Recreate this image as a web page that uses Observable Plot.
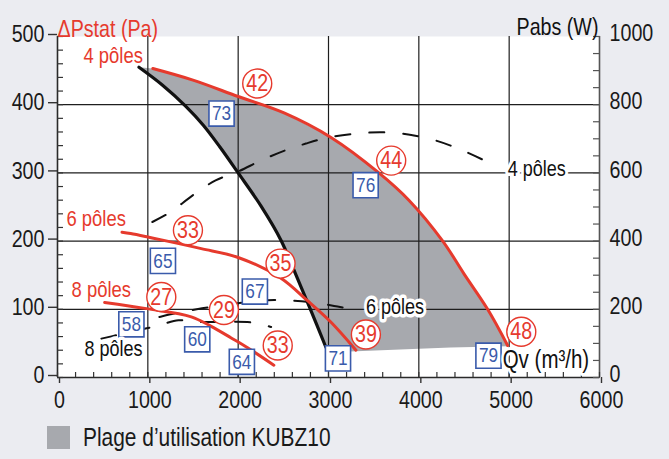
<!DOCTYPE html>
<html><head><meta charset="utf-8">
<script src="https://cdn.jsdelivr.net/npm/d3@7"></script>
<script src="https://cdn.jsdelivr.net/npm/@observablehq/plot@0.6"></script>
<style>
html,body{margin:0;padding:0;background:#ebecf1;}
body{width:669px;height:459px;overflow:hidden;font-family:"Liberation Sans",Arial,sans-serif;}
#legend{position:relative;height:44px;}
#legend .sw{position:absolute;left:47px;top:11px;width:23px;height:23px;background:#a7a9ae;}
#legend .lt{position:absolute;left:83px;top:10px;font-size:25.5px;line-height:25px;color:#1a1a1a;white-space:nowrap;transform:scaleX(0.82);transform-origin:0 50%;}
</style></head>
<body><div id="chart"></div>
<div id="legend"><div class="sw"></div><div class="lt">Plage d’utilisation KUBZ10</div></div>
<script>
// ---- data ----
const xTicks = [0, 1000, 2000, 3000, 4000, 5000, 6000];
const yTicksPa = [0, 100, 200, 300, 400, 500];
const yTicksW = [0, 200, 400, 600, 800, 1000];

// pressure curves [Qv m3/h, dP Pa]
const pres4 = [[1055,453],[1500,436],[2000,412],[2508,388],[3028,352],[3558,300],[3890,260],[4265,200],[4500,152],[4762,100],[4983,47]];
const pres6 = [[714,213],[810,211],[1000,206],[1215,200],[1591,189],[2000,176],[2470,146],[2764,113],[3028,81],[3304,40]];
const pres8 = [[522,110],[985,101],[1481,89],[1702,75],[1923,58],[2100,44],[2395,18]];
// limit curve (black)
const limit = [[902,455],[1160,429],[1418,398],[1614,370],[1798,338],[2000,300],[2250,252],[2475,201],[2641,150],[2800,100],[2972,44]];
// lower edge of usage zone
const zoneBottom = [[3030,37],[4350,44],[4983,46]];
// absorbed power curves [Qv m3/h, Pabs W]
const pow4 = [[1050,456],[1250,485],[1500,535],[1750,578],[2000,604],[2250,636],[2500,664],[2750,686],[3000,704],[3300,715],[3600,719],[3900,712],[4200,694],[4500,664],[4870,618]];
const pow6 = [[760,160],[1000,170],[1300,188],[1600,203],[2000,218],[2400,227],[2800,221],[3100,208],[3330,198]];
const pow8 = [[486,114],[652,124],[1000,145],[1115,152],[1340,168],[1515,163],[1800,163],[2165,161],[2365,148]];

// sound levels (red circles) and efficiencies (blue boxes)
const circleVals = ["42","44","33","35","27","29","33","39","48"];
const circleQ    = [2211, 3694, 1444, 2469, 1149, 1842, 2438, 3414, 5134];
const circleP    = [431, 318, 216, 167, 118, 99, 47, 63, 67];
const boxVals = ["73","76","65","67","58","60","64","71","79"];
const boxQ    = [1816, 3411, 1167, 2185, 818, 1547, 2041, 3105, 4771];
const boxP    = [387, 282, 171, 126, 78, 56, 23, 28, 32];

const redLabels = ["4 pôles", "6 pôles", "8 pôles"];
const redLabelQ = [287, 99, 155];
const redLabelP = [472, 233, 129];
const blackLabels = ["8 pôles", "6 pôles", "4 pôles"];
const blackLabelQ = [298, 3414, 4983];
const blackLabelW = [85, 208, 612];

const titleLeft = "ΔPstat (Pa)";
const titleRight = "Pabs (W)";
const xTitle = "Qv (m³/h)";

// ---- styles ----
const FONT = '"Liberation Sans",Arial,sans-serif';
const RED = "#e63a2d", BLUE = "#3a5bab", GRAY = "#a7a9ae", INK = "#1a1a1a";

const circles = circleVals.map((v,i)=>({v, x:circleQ[i], y:circleP[i]}));
const boxes = boxVals.map((v,i)=>({v, x:boxQ[i], y:boxP[i]}));
const redL = redLabels.map((t,i)=>({t, x:redLabelQ[i], y:redLabelP[i]}));
const blackL = blackLabels.map((t,i)=>({t, x:blackLabelQ[i], y:blackLabelW[i]}));
const zone = [...limit, ...zoneBottom, ...pres4.slice().reverse()];

const X = d => d[0], Y = d => d[1], YW = d => d[1] / 2;
const fmt = d => String(d);

const chart = Plot.plot({
  width: 669, height: 415,
  marginLeft: 57, marginRight: 70, marginTop: 36, marginBottom: 38,
  x: {domain: [0, 6000], label: null},
  y: {domain: [0, 500], label: null},
  style: {fontFamily: FONT, background: "transparent", overflow: "visible", color: INK},
  marks: [
    Plot.frame({fill: "white", stroke: null}),
    Plot.line(zone, {x: X, y: Y, fill: GRAY, stroke: "none", curve: "linear"}),
    Plot.gridX(xTicks.slice(1, -1), {stroke: "#1e1e1e", strokeOpacity: 1, strokeWidth: 1.2}),
    Plot.gridY(yTicksPa.slice(1, -1), {stroke: "#1e1e1e", strokeOpacity: 1, strokeWidth: 1.2}),
    Plot.ruleX([0], {stroke: "#2a2a2a", strokeWidth: 1.6}),
    Plot.ruleY([0], {stroke: "#2a2a2a", strokeWidth: 1.6}),
    Plot.ruleX([6000], {stroke: "#555", strokeWidth: 1.6}),
    // left axis
    Plot.axisY(yTicksPa, {anchor: "left", tickSize: 9, tickPadding: 4, fontSize: 24, dy: -2, label: null, tickFormat: fmt, stroke: "#333", strokeWidth: 1.4}),
    Plot.axisY(d3.range(0, 501, 20), {anchor: "left", tickSize: -6, fill: "none", label: null, stroke: "#333", strokeWidth: 1.2}),
    // right axis (W, same frame: 1000 W at top)
    Plot.axisY(yTicksW.map(w => w / 2), {anchor: "right", tickSize: 0, tickPadding: 10, fontSize: 24, dy: -3, label: null, tickFormat: (d, i) => String(yTicksW[i])}),
    Plot.axisY(d3.range(0, 1001, 50).map(w => w / 2), {anchor: "right", tickSize: -7, fill: "none", label: null, stroke: "#555", strokeWidth: 1.2}),
    // bottom axis
    Plot.axisX(xTicks, {anchor: "bottom", tickSize: 6, tickPadding: 7, fontSize: 24, dx: 2, label: null, tickFormat: fmt, stroke: "#333", strokeWidth: 1.4}),
    Plot.axisX(d3.range(0, 6001, 200), {anchor: "bottom", tickSize: -5, fill: "none", label: null, stroke: "#333", strokeWidth: 1.2}),
    // curves
    Plot.line(limit, {x: X, y: Y, stroke: "#111", strokeWidth: 3.2, curve: "catmull-rom"}),
    Plot.line(pow4, {x: X, y: YW, stroke: "#111", strokeWidth: 2, strokeDasharray: "15,19", curve: "catmull-rom"}),
    Plot.line(pow6, {x: X, y: YW, stroke: "#111", strokeWidth: 2, strokeDasharray: "15,19", curve: "catmull-rom"}),
    Plot.line(pow8, {x: X, y: YW, stroke: "#111", strokeWidth: 2, strokeDasharray: "15,19", curve: "catmull-rom"}),
    Plot.line(pres4, {x: X, y: Y, stroke: RED, strokeWidth: 3, curve: "catmull-rom"}),
    Plot.line(pres6, {x: X, y: Y, stroke: RED, strokeWidth: 3, curve: "catmull-rom"}),
    Plot.line(pres8, {x: X, y: Y, stroke: RED, strokeWidth: 3, curve: "catmull-rom"}),
    // markers
    Plot.dot(circles, {x: "x", y: "y", r: 14.5, fill: "white", stroke: RED, strokeWidth: 1.4}),
    Plot.text(circles, {x: "x", y: "y", text: "v", fill: RED, fontSize: 24}),
    Plot.dot(boxes, {x: "x", y: "y", symbol: "square", r: 14.2, fill: "white", stroke: BLUE, strokeWidth: 1.6}),
    Plot.text(boxes, {x: "x", y: "y", text: "v", fill: BLUE, fontSize: 21}),
    // labels
    Plot.text(redL, {x: "x", y: "y", text: "t", fill: RED, fontSize: 22.5, textAnchor: "start"}),
    Plot.text(blackL, {x: "x", y: d => d.y / 2, text: "t", fill: "#111", fontSize: 22, textAnchor: "start", stroke: "white", strokeWidth: 7, paintOrder: "stroke"}),
    Plot.text([xTitle], {x: 4928, y: 25, text: d => d, fill: "#111", fontSize: 25, textAnchor: "start", stroke: "white", strokeWidth: 6, paintOrder: "stroke"}),
    Plot.text([titleLeft], {frameAnchor: "top-left", dx: 0, dy: -17, text: d => d, fill: RED, fontSize: 24, textAnchor: "start"}),
    Plot.text([titleRight], {frameAnchor: "top-right", dx: -1, dy: -19, text: d => d, fill: "#111", fontSize: 24, textAnchor: "end"})
  ]
});
// condense all texts horizontally (narrow face), keeping each anchor in place
chart.querySelectorAll("text").forEach(t => {
  const tr = t.getAttribute("transform") || "";
  t.setAttribute("transform", (tr + " scale(0.82,1)").trim());
});
document.getElementById("chart").appendChild(chart);
</script>
</body></html>
